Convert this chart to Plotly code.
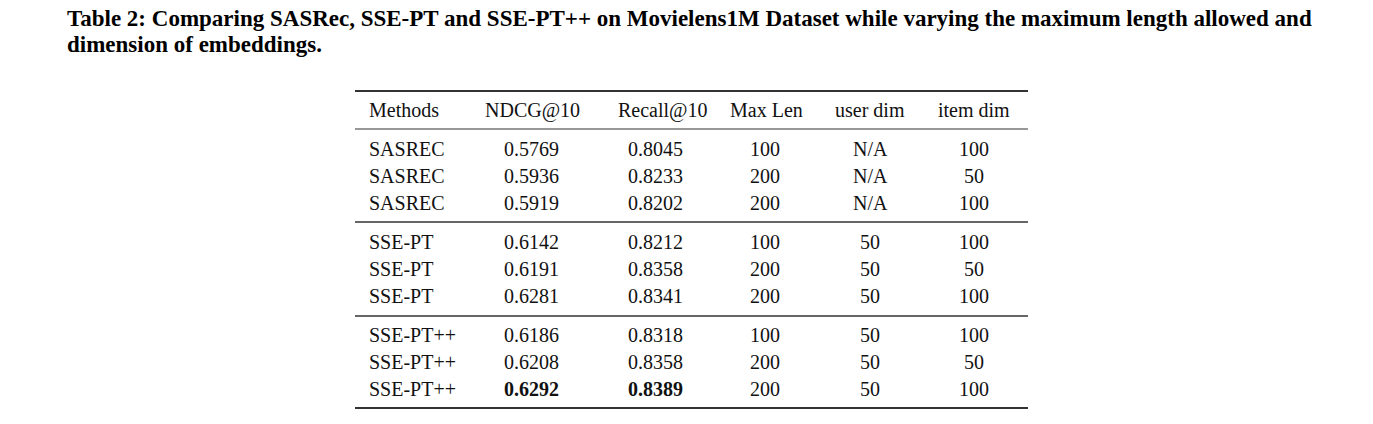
import plotly.graph_objects as go

# ---------------- data ----------------
title_line1 = "Table 2: Comparing SASRec, SSE-PT and SSE-PT++ on Movielens1M Dataset while varying the maximum length allowed and"
title_line2 = "dimension of embeddings."
headers = ["Methods", "NDCG@10", "Recall@10", "Max Len", "user dim", "item dim"]
methods = ["SASREC", "SASREC", "SASREC", "SSE-PT", "SSE-PT", "SSE-PT",
           "SSE-PT++", "SSE-PT++", "SSE-PT++"]
ndcg = [0.5769, 0.5936, 0.5919, 0.6142, 0.6191, 0.6281, 0.6186, 0.6208, 0.6292]
recall = [0.8045, 0.8233, 0.8202, 0.8212, 0.8358, 0.8341, 0.8318, 0.8358, 0.8389]
max_len = [100, 200, 200, 100, 200, 200, 100, 200, 200]
user_dim = ["N/A", "N/A", "N/A", "50", "50", "50", "50", "50", "50"]
item_dim = [100, 50, 100, 100, 50, 100, 100, 50, 100]

# ---------------- layout constants ----------------
W, H = 1373, 424
FONT = "Liberation Serif"
FS = 20
TEXT = "#111111"

table_left, table_right = 355, 1028
col_header_x = [367, 532, 663, 766, 870, 974]
col_value_x = [367, 531, 655, 765, 870, 974]
header_y = 110
first_row_y = 149
row_step = 27
group_gap = 39  # distance between last row of one group and first of next
rules = [(91, 2.2), (129, 1.2), (222, 1.6), (316, 1.6), (408, 2.2)]

fig = go.Figure()

annotations = []
# title
annotations.append(dict(x=65, y=18, text="<b>" + title_line1 + "</b>", xanchor="left", yanchor="middle",
                        showarrow=False, font=dict(family=FONT, size=23, color="#000000")))
annotations.append(dict(x=65, y=44, text="<b>" + title_line2 + "</b>", xanchor="left", yanchor="middle",
                        showarrow=False, font=dict(family=FONT, size=23, color="#000000")))

# headers
for i, h in enumerate(headers):
    annotations.append(dict(x=col_header_x[i], y=header_y, text=h,
                            xanchor="left" if i == 0 else "center", yanchor="middle",
                            showarrow=False, font=dict(family=FONT, size=FS, color=TEXT)))

best_ndcg = max(ndcg)
best_recall = max(recall)

for r in range(len(methods)):
    group = r // 3
    y = first_row_y + r * row_step + group * (group_gap - row_step)
    n_txt = f"{ndcg[r]:.4f}"
    rc_txt = f"{recall[r]:.4f}"
    if ndcg[r] == best_ndcg:
        n_txt = "<b>" + n_txt + "</b>"
    if recall[r] == best_recall:
        rc_txt = "<b>" + rc_txt + "</b>"
    cells = [methods[r], n_txt, rc_txt, str(max_len[r]), user_dim[r], str(item_dim[r])]
    for i, c in enumerate(cells):
        annotations.append(dict(x=col_value_x[i], y=y, text=c,
                                xanchor="left" if i == 0 else "center", yanchor="middle",
                                showarrow=False, font=dict(family=FONT, size=FS, color=TEXT)))

shapes = []
for yy, lw in rules:
    shapes.append(dict(type="line", xref="x", yref="y", x0=table_left, x1=table_right,
                       y0=yy, y1=yy, line=dict(color="#333333", width=lw)))

fig.update_layout(
    width=W, height=H,
    margin=dict(l=0, r=0, t=0, b=0),
    paper_bgcolor="white", plot_bgcolor="white",
    xaxis=dict(range=[0, W], visible=False, fixedrange=True),
    yaxis=dict(range=[H, 0], visible=False, fixedrange=True),
    annotations=annotations,
    shapes=shapes,
    showlegend=False,
)

fig.write_html("out.html", config={"displayModeBar": False},
               post_script="document.body.style.margin='0px';document.body.style.overflow='hidden';")
